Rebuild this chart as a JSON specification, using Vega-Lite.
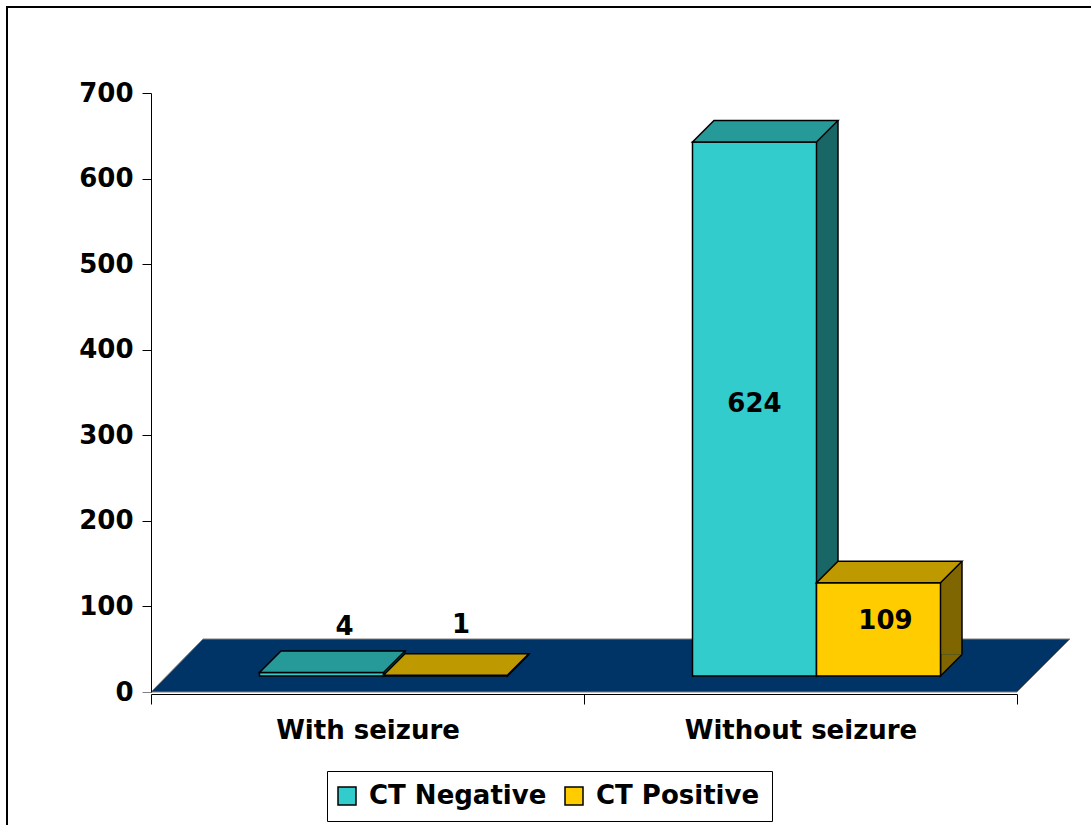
{
  "$schema": "https://vega.github.io/schema/vega-lite/v6.json",
  "autosize": {"type": "none"},
  "padding": {"left": 7, "top": 7, "right": -5, "bottom": -5},
  "width": 1089,
  "height": 823,
  "background": "white",
  "config": {
    "view": {"stroke": "black", "strokeWidth": 2},
    "text": {"font": "DejaVu Sans", "fontSize": 26, "fontWeight": "bold", "color": "black"}
  },
  "data": {
    "values": [
      {"category": "With seizure", "series": "CT Negative", "value": 4},
      {"category": "With seizure", "series": "CT Positive", "value": 1},
      {"category": "Without seizure", "series": "CT Negative", "value": 624},
      {"category": "Without seizure", "series": "CT Positive", "value": 109}
    ]
  },
  "resolve": {"scale": {"y": "independent"}},
  "encoding": {
    "x": {
      "field": "category",
      "type": "nominal",
      "sort": null,
      "title": null,
      "scale": {"type": "band", "range": [144, 1010], "paddingInner": 0, "paddingOuter": 0},
      "axis": {
        "orient": "bottom",
        "offset": -136,
        "zindex": 1,
        "tickBand": "extent",
        "tickSize": 10,
        "tickColor": "black",
        "tickWidth": 1,
        "domainColor": "black",
        "domainWidth": 1,
        "labelAngle": 0,
        "labelLimit": 0,
        "labelFont": "DejaVu Sans",
        "labelFontSize": 26,
        "labelFontWeight": "bold",
        "labelColor": "black",
        "labelPadding": 13,
        "title": null
      }
    }
  },
  "layer": [
    {
      "encoding": {
        "y": {
          "field": "value",
          "type": "quantitative",
          "stack": null,
          "title": null,
          "scale": {"domain": [0, 700], "range": [685, 86], "nice": false, "zero": true},
          "axis": {
            "orient": "left",
            "offset": -144,
            "zindex": 1,
            "values": [0, 100, 200, 300, 400, 500, 600, 700],
            "grid": false,
            "tickSize": 9,
            "tickWidth": 1,
            "tickColor": {"condition": {"test": "datum.value === 0", "value": "#808080"}, "value": "black"},
            "domainColor": "black",
            "domainWidth": 1,
            "labelFont": "DejaVu Sans",
            "labelFontSize": 26,
            "labelFontWeight": "bold",
            "labelColor": "black",
            "labelPadding": 9,
            "title": null
          }
        }
      },
      "layer": [
        {
          "transform": [{"filter": "datum.category === 'With seizure' && datum.series === 'CT Negative'"}],
          "mark": {
            "type": "point",
            "shape": "M-216.5,0L649.5,0L702.5,-53L-164.5,-53Z",
            "size": 4,
            "filled": true,
            "fill": "#003366",
            "stroke": "#7f7f7f",
            "strokeWidth": 1,
            "opacity": 1
          },
          "encoding": {"y": {"datum": 0}}
        },
        {
          "transform": [{"filter": "datum.series === 'CT Negative'"}],
          "layer": [
            {"mark": {"type": "bar", "width": 21.5, "xOffset": 26.75, "yOffset": -37.5, "y2Offset": -37.5, "color": "#196666", "strokeWidth": 0}, "encoding": {"y2": {"datum": 0}}},
            {"mark": {"type": "rule", "xOffset": 37.5, "yOffset": -37.5, "y2Offset": -37.5, "color": "black", "strokeWidth": 1.5}, "encoding": {"y2": {"datum": 0}}},
            {"mark": {"type": "point", "shape": "M16,-37.5L16,-16L37.5,-37.5", "size": 4, "filled": true, "fill": "#196666", "stroke": "black", "strokeWidth": 1.5, "opacity": 1}, "encoding": {"y": {"datum": 0}}},
            {
              "mark": {"type": "bar", "width": 124, "xOffset": -46, "yOffset": -16, "y2Offset": -16, "stroke": "black", "strokeWidth": 1.5},
              "encoding": {
                "y2": {"datum": 0},
                "color": {
                  "field": "series",
                  "type": "nominal",
                  "scale": {"domain": ["CT Negative", "CT Positive"], "range": ["#33CCCC", "#FFCC00"]},
                  "legend": {
                    "orient": "none",
                    "legendX": 320,
                    "legendY": 764,
                    "direction": "horizontal",
                    "title": null,
                    "symbolType": "square",
                    "symbolSize": 324,
                    "symbolStrokeColor": "black",
                    "symbolStrokeWidth": 1.5,
                    "symbolOpacity": 1,
                    "symbolOffset": -5,
                    "labelFont": "DejaVu Sans",
                    "labelFontSize": 26,
                    "labelFontWeight": "bold",
                    "labelColor": "black",
                    "labelLimit": 0,
                    "labelOffset": 9,
                    "columnPadding": 15,
                    "padding": 12,
                    "strokeColor": "black",
                    "fillColor": "white"
                  }
                }
              }
            },
            {"mark": {"type": "point", "shape": "M-108,-16L16,-16L37.5,-37.5L-86.5,-37.5Z", "size": 4, "filled": true, "fill": "#269999", "stroke": "black", "strokeWidth": 1.5, "opacity": 1}},
            {
              "transform": [{"filter": "datum.value <= 50"}],
              "mark": {"type": "text", "dx": -23, "dy": -54, "baseline": "alphabetic"},
              "encoding": {"text": {"field": "value", "type": "quantitative"}}
            }
          ]
        },
        {
          "transform": [{"filter": "datum.series === 'CT Positive'"}],
          "layer": [
            {"mark": {"type": "bar", "width": 21.5, "xOffset": 150.75, "yOffset": -37.5, "y2Offset": -37.5, "color": "#7F6600", "strokeWidth": 0}, "encoding": {"y2": {"datum": 0}}},
            {"mark": {"type": "rule", "xOffset": 161.5, "yOffset": -37.5, "y2Offset": -37.5, "color": "black", "strokeWidth": 1.5}, "encoding": {"y2": {"datum": 0}}},
            {"mark": {"type": "point", "shape": "M140,-37.5L140,-16L161.5,-37.5", "size": 4, "filled": true, "fill": "#7F6600", "stroke": "black", "strokeWidth": 1.5, "opacity": 1}, "encoding": {"y": {"datum": 0}}},
            {
              "mark": {"type": "bar", "width": 124, "xOffset": 78, "yOffset": -16, "y2Offset": -16, "stroke": "black", "strokeWidth": 1.5},
              "encoding": {
                "y2": {"datum": 0},
                "color": {
                  "field": "series",
                  "type": "nominal",
                  "scale": {"domain": ["CT Negative", "CT Positive"], "range": ["#33CCCC", "#FFCC00"]}
                }
              }
            },
            {"mark": {"type": "point", "shape": "M16,-16L140,-16L161.5,-37.5L37.5,-37.5Z", "size": 4, "filled": true, "fill": "#BF9900", "stroke": "black", "strokeWidth": 1.5, "opacity": 1}},
            {
              "transform": [{"filter": "datum.value <= 50"}],
              "mark": {"type": "text", "dx": 93.5, "dy": -58, "baseline": "alphabetic"},
              "encoding": {"text": {"field": "value", "type": "quantitative"}}
            }
          ]
        }
      ]
    },
    {
      "transform": [{"filter": "datum.value > 50"}],
      "encoding": {
        "y": {
          "field": "value",
          "type": "quantitative",
          "stack": null,
          "title": null,
          "scale": {"domain": [0, 1400], "range": [685, 86], "nice": false, "zero": true},
          "axis": null
        },
        "text": {"field": "value", "type": "quantitative"}
      },
      "layer": [
        {
          "transform": [{"filter": "datum.series === 'CT Negative'"}],
          "mark": {"type": "text", "dx": -46, "dy": -21}
        },
        {
          "transform": [{"filter": "datum.series === 'CT Positive'"}],
          "mark": {"type": "text", "dx": 85, "dy": -24}
        }
      ]
    }
  ]
}
